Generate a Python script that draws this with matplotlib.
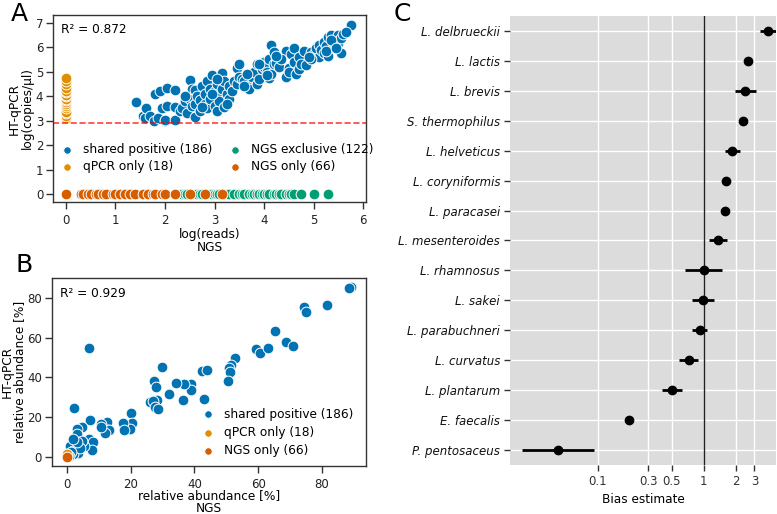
import numpy as np
import matplotlib
matplotlib.use("Agg")
import matplotlib.pyplot as plt
from matplotlib.ticker import FixedLocator, FixedFormatter, NullLocator

# colours (seaborn colorblind)
BLUE = '#0173B2'
ORANGE = '#DE8F05'
GREEN = '#029E73'
RED = '#D55E00'

# ---- panel A: log(reads) vs log(copies/ul)
shared_x = [1.42, 1.55, 1.6, 1.62, 1.7, 1.78, 1.85, 1.8, 1.9, 1.95, 2.0, 2.05, 2.0, 2.05, 2.2,
            2.2, 2.2, 2.3, 2.35, 2.4, 2.45, 2.5, 2.5, 2.55, 2.55, 2.6, 2.6, 2.6, 2.65, 2.7,
            2.7, 2.75, 2.8, 2.8, 2.85, 2.85, 2.9, 2.9, 2.95, 3.0, 3.0, 3.05, 3.05, 3.1, 3.1,
            3.15, 3.15, 3.2, 3.2, 3.25, 3.3, 3.3, 3.35, 3.4, 3.45, 3.45, 3.5, 3.5, 3.55, 3.6,
            3.65, 3.7, 3.75, 3.8, 3.85, 3.85, 3.9, 3.95, 4.0, 4.0, 4.05, 4.1, 4.1, 4.15, 4.15,
            4.2, 4.2, 4.25, 4.25, 4.3, 4.45, 4.45, 4.5, 4.5, 4.55, 4.6, 4.6, 4.65, 4.7, 4.7,
            4.75, 4.8, 4.85, 4.95, 5.0, 5.05, 5.1, 5.1, 5.15, 5.2, 5.2, 5.25, 5.3, 5.3, 5.35,
            5.4, 5.45, 5.5, 5.5, 5.55, 5.55, 5.6, 5.75, 5.65, 5.25, 4.35, 4.95, 3.6, 3.9, 4.05,
            2.4, 2.95, 3.25, 3.65, 2.75, 3.05, 5.35, 5.45, 4.9, 4.25]
shared_y = [3.77, 3.2, 3.1, 3.5, 3.2, 3.0, 3.1, 4.1, 4.2, 3.5, 2.97, 3.6, 3.05, 4.35, 3.05,
            3.55, 4.25, 3.4, 3.5, 3.8, 3.3, 4.65, 3.9, 4.3, 3.6, 4.25, 3.15, 3.7, 4.0, 3.85,
            3.4, 4.4, 4.1, 3.7, 3.5, 4.6, 4.3, 3.9, 4.85, 3.6, 4.2, 3.4, 4.5, 4.0, 3.8,
            4.95, 4.3, 3.55, 4.6, 4.1, 3.9, 4.4, 4.2, 4.6, 5.15, 4.5, 5.3, 4.8, 4.7, 4.6,
            4.4, 4.3, 4.8, 5.0, 4.5, 5.3, 4.7, 5.1, 5.4, 5.2, 5.0, 4.75, 5.5, 6.1, 4.9,
            5.8, 5.3, 5.6, 5.35, 5.2, 5.85, 4.8, 5.15, 5.0, 5.7, 5.95, 5.4, 4.9, 5.1, 5.6,
            5.3, 5.85, 5.25, 5.8, 5.7, 5.95, 6.1, 5.6, 5.9, 6.2, 5.75, 6.05, 5.65, 6.4, 6.5,
            6.2, 6.3, 6.5, 6.15, 6.35, 5.75, 6.55, 6.9, 6.6, 5.85, 5.5, 5.5, 4.4, 5.3, 4.85,
            4.0, 4.1, 3.7, 4.9, 3.55, 4.7, 6.3, 5.95, 5.6, 5.65]
qpcr_only_y = [3.1, 3.2, 3.3, 3.35, 3.5, 3.6, 3.7, 3.75, 3.85, 3.9, 4.0, 4.05, 4.15, 4.2,
               4.35, 4.5, 4.6, 4.75]
ngs_excl_x = [2.25, 2.3, 2.35, 2.4, 2.45, 2.55, 2.6, 2.65, 2.7, 2.75, 2.85, 2.9, 2.95, 3.0,
              3.05, 3.1, 3.2, 3.25, 3.3, 3.4, 3.5, 3.55, 3.6, 3.7, 3.75, 3.8, 3.85, 3.9,
              3.95, 4.0, 4.05, 4.1, 4.2, 4.25, 4.3, 4.35, 4.45, 4.5, 4.55, 4.6, 4.75, 5.0, 5.3]
ngs_only_x = [0.0, 0.3, 0.35, 0.45, 0.5, 0.6, 0.65, 0.75, 0.8, 0.95, 1.0, 1.1, 1.2, 1.3, 1.4,
              1.55, 1.65, 1.75, 1.8, 1.95, 2.0, 2.2, 2.5, 2.8, 3.15]
threshold_a = 2.92
r2_a = 0.872

# ---- panel B: relative abundance
rel_x = [89.2, 88.5, 74.3, 74.9, 81.6, 65.2, 59.4, 60.5, 63.2, 68.6, 70.9, 52.6, 51.4, 50.8,
         51.2, 50.6, 42.3, 44.0, 43.0, 39.0, 38.9, 36.7, 36.4, 34.2, 32.0, 29.9, 27.2, 27.8,
         28.1, 26.0, 27.0, 27.5, 28.6, 20.2, 20.3, 19.8, 17.6, 17.8, 12.7, 12.8, 13.2, 11.9,
         10.8, 10.6, 6.8, 2.2, 7.1, 4.6, 3.0, 2.5, 3.0, 6.9, 8.2, 7.8, 5.2, 4.6, 3.5, 2.5,
         1.5, 1.0, 1.8, 0.8, 2.0, 4.0, 3.2, 1.2, 0.5, 1.8]
rel_y = [85.3, 84.8, 75.2, 73.0, 76.6, 63.3, 54.4, 52.5, 54.9, 58.0, 55.8, 49.7, 46.0, 44.5,
         42.8, 38.2, 43.3, 43.7, 29.4, 36.7, 33.8, 36.8, 28.4, 37.4, 31.5, 45.3, 38.4, 35.3,
         28.6, 27.4, 28.2, 25.0, 24.3, 22.1, 16.9, 14.3, 17.1, 13.5, 17.7, 13.5, 13.8, 12.0,
         16.8, 15.1, 55.0, 24.7, 18.5, 15.3, 14.2, 10.2, 11.8, 9.3, 7.7, 3.5, 5.3, 8.1, 2.0,
         6.0, 5.0, 5.3, 3.2, 1.5, 1.3, 4.6, 7.5, 2.5, 0.5, 9.0]
rel_qpcr_only_y = [0.3, 0.6, 1.0, 1.4]
r2_b = 0.929

# ---- panel C: bias estimates
species = ['L. delbrueckii', 'L. lactis', 'L. brevis', 'S. thermophilus', 'L. helveticus',
           'L. coryniformis', 'L. paracasei', 'L. mesenteroides', 'L. rhamnosus', 'L. sakei',
           'L. parabuchneri', 'L. curvatus', 'L. plantarum', 'E. faecalis', 'P. pentosaceus']
bias = [4.0, 2.58, 2.47, 2.33, 1.85, 1.62, 1.59, 1.36, 1.0, 0.99, 0.92, 0.73, 0.50, 0.197, 0.042]
ci_low = [3.4, 2.4, 1.97, 2.15, 1.59, 1.5, 1.47, 1.12, 0.67, 0.77, 0.78, 0.59, 0.40, 0.19, 0.0195]
ci_high = [4.8, 2.75, 3.1, 2.55, 2.17, 1.75, 1.72, 1.65, 1.48, 1.25, 1.08, 0.88, 0.62, 0.205, 0.092]
bias_ticks = [0.1, 0.3, 0.5, 1, 2, 3]

plt.rcParams['font.family'] = 'DejaVu Sans'
plt.rcParams['axes.linewidth'] = 1.0
TICK_FS = 8.5
LABEL_FS = 8.7

fig = plt.figure(figsize=(7.77, 5.14), dpi=100)

pt = dict(s=60, edgecolor='white', linewidth=0.7)


def style_scatter_axes(ax):
    for sp in ax.spines.values():
        sp.set_color('#333333')
    ax.tick_params(direction='out', length=5, width=1, labelsize=TICK_FS, colors='#333333',
                   labelcolor='#222222')
    ax.tick_params(axis='y', pad=2)


# Panel A
axA = fig.add_axes([0.0682, 0.607, 0.403, 0.364])
axA.scatter(shared_x, shared_y, color=BLUE, label='shared positive (186)', **pt)
axA.scatter(np.zeros(len(qpcr_only_y)), qpcr_only_y, color=ORANGE, label='qPCR only (18)', **pt)
axA.scatter(ngs_excl_x, np.zeros(len(ngs_excl_x)), color=GREEN, label='NGS exclusive (122)', **pt)
axA.scatter(ngs_only_x, np.zeros(len(ngs_only_x)), color=RED, label='NGS only (66)', **pt)
axA.axhline(threshold_a, color='red', linestyle='--', linewidth=1.2, alpha=0.75)
axA.set_xlim(-0.26, 6.06)
axA.set_ylim(-0.31, 7.31)
axA.set_xticks(range(0, 7))
axA.set_yticks(range(0, 8))
axA.set_xlabel('log(reads)\nNGS', fontsize=LABEL_FS, linespacing=0.95, labelpad=1)
axA.set_ylabel('HT-qPCR\nlog(copies/µl)', fontsize=LABEL_FS, linespacing=0.95)
axA.yaxis.set_label_coords(-0.062, 0.5)
axA.text(0.025, 0.955, 'R² = {}'.format(r2_a), transform=axA.transAxes, fontsize=LABEL_FS,
         va='top')
style_scatter_axes(axA)
axA.legend(loc='center', bbox_to_anchor=(0.515, 0.235), ncol=2, frameon=False,
           fontsize=LABEL_FS, handletextpad=0.3, columnspacing=0.9, markerscale=0.7,
           borderaxespad=0, labelspacing=0.35)

# Panel B
axB = fig.add_axes([0.0665, 0.0934, 0.4045, 0.3656])
axB.scatter(rel_x, rel_y, color=BLUE, label='shared positive (186)', **pt)
axB.scatter(np.zeros(len(rel_qpcr_only_y)), rel_qpcr_only_y, color=ORANGE,
            label='qPCR only (18)', **pt)
axB.scatter([0.0], [0.0], color=RED, label='NGS only (66)', **pt)
axB.set_xlim(-4.8, 93.8)
axB.set_ylim(-4.5, 89.9)
axB.set_xticks([0, 20, 40, 60, 80])
axB.set_yticks([0, 20, 40, 60, 80])
axB.set_xlabel('relative abundance [%]\nNGS', fontsize=LABEL_FS, linespacing=0.95, labelpad=-1)
axB.set_ylabel('HT-qPCR\nrelative abundance [%]', fontsize=LABEL_FS, linespacing=0.95)
axB.yaxis.set_label_coords(-0.082, 0.5)
axB.text(0.025, 0.955, 'R² = {}'.format(r2_b), transform=axB.transAxes, fontsize=LABEL_FS,
         va='top')
style_scatter_axes(axB)
axB.legend(loc='lower right', bbox_to_anchor=(0.975, 0.02), frameon=False,
           fontsize=LABEL_FS, handletextpad=0.3, markerscale=0.7, borderaxespad=0,
           labelspacing=0.45)

# Panel C
axC = fig.add_axes([0.657, 0.0953, 0.342, 0.8737])
axC.set_facecolor('#DCDCDC')
ypos = np.arange(len(species))[::-1]
axC.set_xscale('log')
axC.set_xlim(0.0151, 4.81)
axC.set_ylim(-0.5, len(species) - 0.5)
axC.xaxis.set_major_locator(FixedLocator(bias_ticks))
axC.xaxis.set_major_formatter(FixedFormatter(['0.1', '0.3', '0.5', '1', '2', '3']))
axC.xaxis.set_minor_locator(NullLocator())
axC.set_yticks(ypos)
axC.set_yticklabels(species, fontstyle='italic')
axC.grid(True, color='white', linewidth=1.0)
axC.set_axisbelow(True)
for sp in axC.spines.values():
    sp.set_visible(False)
axC.axvline(1, color='#222222', linewidth=1.0, zorder=2)
err_lo = np.array(bias) - np.array(ci_low)
err_hi = np.array(ci_high) - np.array(bias)
axC.errorbar(bias, ypos, xerr=[err_lo, err_hi], fmt='o', color='black', markersize=6,
             elinewidth=2, capsize=0, zorder=3)
axC.tick_params(axis='both', direction='out', length=4, width=1, colors='#333333',
                labelsize=TICK_FS)
axC.tick_params(axis='y', labelcolor='#111111')
axC.set_xlabel('Bias estimate', fontsize=LABEL_FS, labelpad=3)

# panel letters
fig.text(0.014, 0.996, 'A', fontsize=18, va='top')
fig.text(0.020, 0.508, 'B', fontsize=18, va='top')
fig.text(0.506, 0.996, 'C', fontsize=18, va='top')

fig.savefig('out.png', dpi=100)
